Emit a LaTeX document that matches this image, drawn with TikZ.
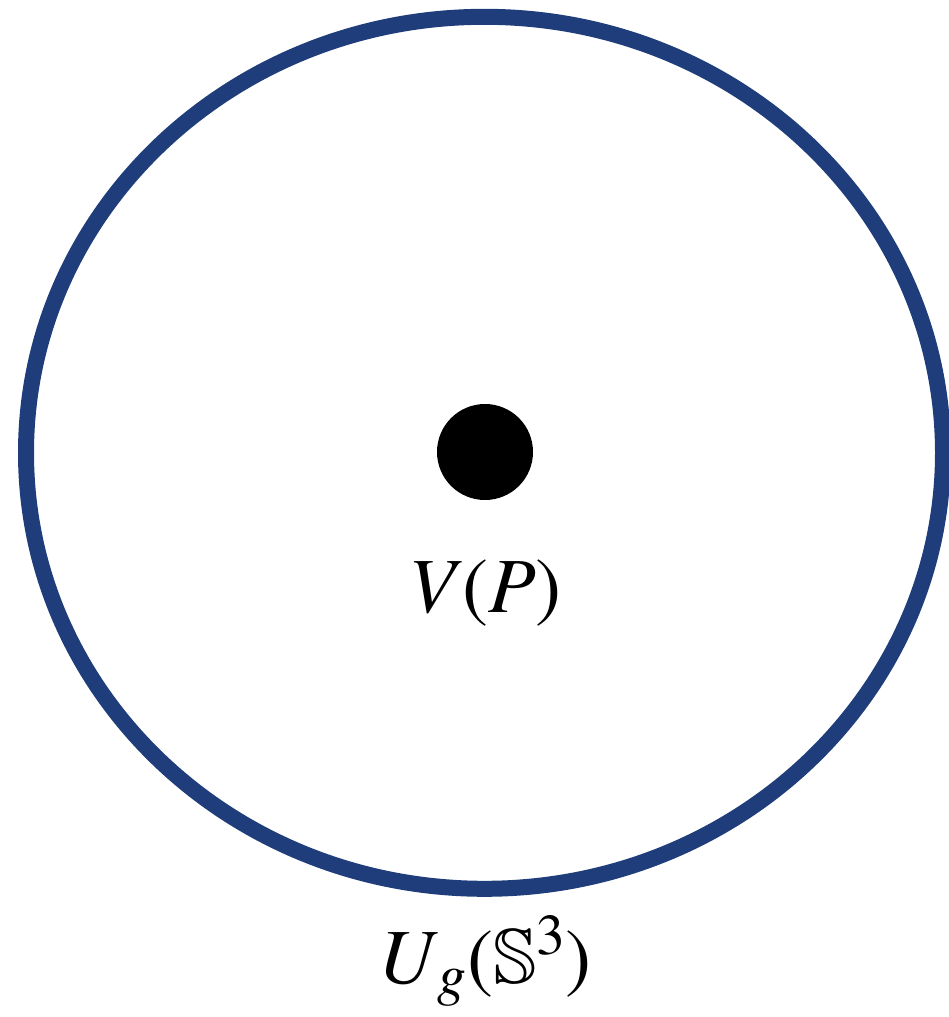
\documentclass[tikz,border=0pt]{standalone}
\usepackage[T1]{fontenc}
\usepackage{amsmath,amssymb}
\usepackage{mathptmx}
\definecolor{ringblue}{RGB}{31,61,122}
\tikzset{
  ring/.style={draw=ringblue, line width=16pt},
  pointdot/.style={fill=black},
  lbl/.style={inner sep=0pt, anchor=base, font=\fontsize{78}{90}\selectfont}
}
\begin{document}
\begin{tikzpicture}[x=1pt,y=-1pt]
\useasboundingbox (0,0) rectangle (949,1017);
\draw[ring] (484.5,452.8) ellipse [x radius=458.5, y radius=436];
\fill[pointdot] (485,452) circle [radius=48];
\node[lbl] (vp) at (485,612) {\textit{V}(\textit{P})};
\node[lbl] (ug) at (485,983) {\textit{U}$_{g}$($\mathbb{S}^{3}$)};
\end{tikzpicture}
\end{document}
